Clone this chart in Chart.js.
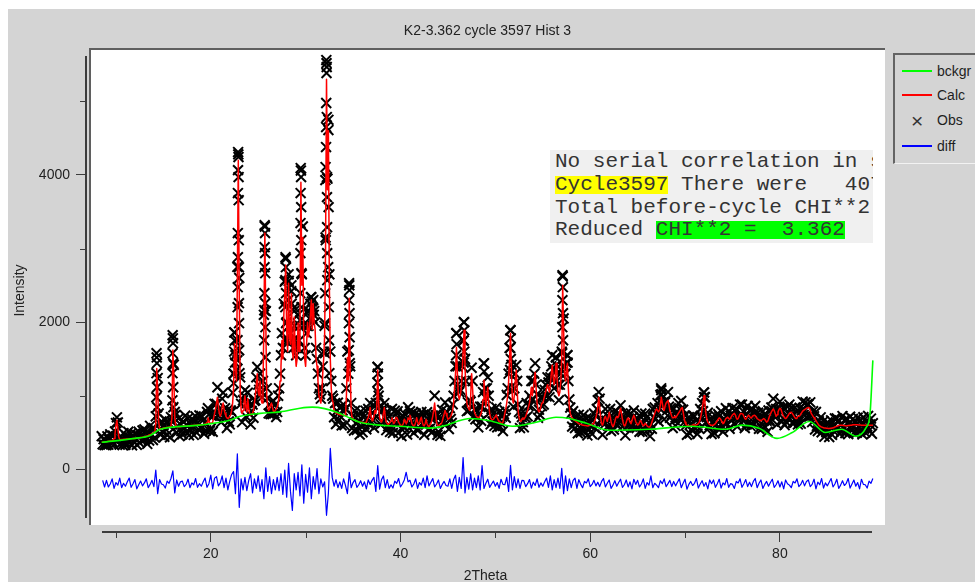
<!DOCTYPE html>
<html lang="en">
<head>
  <meta charset="UTF-8" />
  <title>K2-3.362 cycle 3597 Hist 3</title>
  <style>
    html, body {
      margin: 0;
      padding: 0;
      background: #fff;
      overflow: hidden;
    }

    #wrap {
      position: relative;
      width: 975px;
      height: 582px;
    }

    #legend {
      position: absolute;
      left: 893px;
      top: 53px;
      width: 100px;
      height: 111px;
      box-sizing: border-box;
      background: #d4d4d4;
      border-left: 2px solid #646464;
      border-top: 2px solid #646464;
      border-bottom: 1px solid #f2f2f2;
      font: 14px Arial, "Liberation Sans", sans-serif;
      color: #1e1e1e;
    }

    #legend .item {
      position: absolute;
      left: 7px;
      height: 25px;
      width: 90px;
    }

    #legend .line {
      position: absolute;
      left: 0;
      top: 11px;
      width: 30px;
      height: 2px;
    }

    #legend .mark {
      position: absolute;
      left: 9px;
      top: 0;
      line-height: 25px;
      font-size: 21px;
      color: #333;
    }

    #legend .label {
      position: absolute;
      left: 35px;
      top: 0;
      line-height: 25px;
    }

    #info {
      position: absolute;
      left: 550px;
      top: 150px;
      width: 323px;
      height: 93px;
      box-sizing: border-box;
      padding: 1px 0 0 5px;
      background: #f0f0f0;
      overflow: hidden;
      white-space: pre;
      font: 21px "Courier New", "Liberation Mono", monospace;
      line-height: 22.75px;
      color: #333;
    }

    #info .hl {
      display: inline-block;
      height: 18px;
      line-height: 18px;
    }
  </style>
</head>

<body>
  <div id="wrap">
    <canvas id="myChart" width="975" height="582"></canvas>
    <div id="legend">
      <div class="item" style="top:4px"><span class="line" style="background:#00ff00"></span><span class="label">bckgr</span></div>
      <div class="item" style="top:28px"><span class="line" style="background:#ff0000"></span><span class="label">Calc</span></div>
      <div class="item" style="top:53px"><span class="mark">×</span><span class="label">Obs</span></div>
      <div class="item" style="top:79px"><span class="line" style="background:#0000ff"></span><span class="label">diff</span></div>
    </div>
    <div id="info"><div>No serial correlation in shifts</div><div><span class="hl" style="background:#ffff00">Cycle3597</span> There were   4073 observations</div><div>Total before-cycle CHI**2 (offset/sig)</div><div>Reduced <span class="hl" style="background:#00ff00">CHI**2 =  3.362</span></div></div>
  </div>

  <script src="https://cdn.jsdelivr.net/npm/chart.js@4.4.1/dist/chart.umd.min.js"></script>
  <script>
    // observed and calculated profile, 2Theta 8.5 .. 89.8 in 0.1 deg steps
    const thetaStart = 8.5;
    const thetaStep = 0.1;

    const obs = [
      450, 340, 410, 330, 385,
      330, 448, 335, 403, 475, 344, 381, 458, 336, 515, 628, 707, 637, 419, 335, 451, 418, 330, 491, 373,
      333, 453, 398, 511, 358, 422, 486, 326, 439, 377, 483, 415, 333, 461, 512, 360, 453, 392, 527, 410,
      542, 411, 501, 345, 468, 390, 591, 461, 552, 397, 560, 430, 720, 1520, 1240, 760, 620, 470, 650, 510,
      600, 442, 674, 536, 468, 640, 592, 434, 710, 650, 1780, 1420, 780, 740, 500, 590, 690, 450, 610, 520,
      475, 646, 567, 728, 509, 600, 691, 462, 623, 534, 685, 586, 467, 648, 719, 500, 631, 542, 733, 564,
      725, 567, 669, 482, 626, 530, 780, 830, 740, 520, 555, 728, 510, 730, 890, 760, 890, 1115, 740, 810,
      760, 640, 960, 1040, 720, 830, 740, 560, 810, 650, 610, 800, 780, 1040, 1300, 1860, 1550, 1350, 2750, 4280,
      2600, 1250, 890, 640, 940, 1000, 1075, 720, 900, 1040, 910, 750, 610, 795, 880, 700, 930, 940, 1250, 1390,
      1150, 1080, 1300, 1050, 980, 1200, 2100, 3300, 2150, 1100, 970, 760, 880, 750, 910, 750, 930, 760, 880, 710,
      780, 1000, 1100, 1300, 1550, 1850, 1650, 2250, 2550, 2860, 2000, 1750, 2650, 1950, 1850, 2500, 1750, 1650, 2200, 1750,
      1550, 1650, 2100, 1750, 1950, 4060, 2650, 3300, 1950, 1650, 1550, 1850, 2150, 1950, 2050, 2250, 2340, 2050, 2300, 2150,
      2000, 1650, 1500, 1300, 1100, 1020, 960, 1100, 1400, 1600, 1950, 3150, 5520, 3950, 4750, 2650, 1600, 1200, 1000, 960,
      706, 900, 614, 796, 906, 673, 728, 848, 596, 800, 880, 600, 820, 1100, 1600, 1300, 2500, 1400, 900, 560,
      728, 526, 797, 624, 535, 734, 669, 472, 784, 578, 504, 706, 608, 798, 544, 692, 820, 604, 900, 648,
      768, 668, 564, 860, 904, 720, 1390, 1000, 856, 612, 784, 632, 832, 900, 712, 532, 788, 586, 716, 508,
      576, 820, 494, 656, 796, 628, 760, 788, 496, 680, 648, 451, 732, 584, 560, 744, 644, 472, 844, 620,
      790, 752, 596, 768, 494, 612, 760, 544, 686, 538, 728, 668, 780, 700, 744, 470, 656, 608, 776, 542,
      724, 552, 692, 504, 732, 692, 1000, 736, 736, 468, 511, 720, 454, 656, 806, 628, 738, 908, 616, 780,
      728, 546, 832, 684, 630, 884, 1000, 1200, 1400, 1850, 1400, 1100, 1050, 1080, 1200, 1400, 1750, 2000, 1500, 1200,
      790, 910, 800, 940, 920, 1380, 1200, 720, 810, 680, 810, 700, 570, 760, 850, 660, 850, 1050, 1440, 1100,
      970, 1100, 1250, 1000, 770, 610, 820, 650, 760, 590, 650, 840, 570, 700, 780, 580, 620, 715, 520, 750,
      800, 700, 1010, 1100, 1300, 1650, 1890, 1420, 1070, 850, 1100, 1300, 1415, 1200, 880, 780, 560, 760, 710, 640,
      570, 760, 700, 900, 720, 860, 1000, 870, 1200, 940, 1200, 1300, 1440, 1150, 1020, 700, 810, 740, 980, 860,
      980, 880, 1080, 1150, 990, 1250, 1180, 980, 1250, 1400, 1550, 1350, 1100, 1350, 1520, 1200, 1150, 940, 1150, 1300,
      1600, 2620, 2050, 1400, 1300, 1450, 1550, 1200, 950, 840, 760, 580, 790, 640, 560, 720, 660, 490, 740, 565,
      500, 665, 580, 738, 516, 604, 692, 460, 620, 540, 690, 590, 480, 670, 760, 560, 730, 820, 940, 1050,
      960, 660, 680, 470, 650, 610, 820, 660, 730, 590, 705, 820, 520, 630, 710, 540, 640, 790, 600, 750,
      760, 660, 870, 730, 580, 690, 610, 460, 760, 630, 590, 740, 620, 760, 580, 710, 800, 570, 680, 560,
      690, 600, 510, 716, 760, 510, 620, 540, 755, 570, 710, 540, 635, 450, 610, 550, 820, 700, 840, 690,
      750, 900, 650, 830, 1010, 1075, 890, 910, 680, 910, 940, 800, 1050, 850, 700, 830, 740, 560, 820, 670,
      590, 780, 720, 900, 700, 810, 930, 710, 810, 640, 730, 600, 470, 645, 710, 488, 620, 535, 730, 570,
      720, 560, 665, 480, 630, 550, 820, 720, 900, 790, 1045, 980, 630, 710, 770, 560, 600, 690, 480, 650,
      640, 490, 730, 610, 560, 750, 720, 550, 790, 590, 510, 690, 640, 830, 620, 717, 790, 550, 730, 660,
      830, 740, 630, 790, 820, 580, 720, 660, 880, 720, 880, 710, 780, 560, 690, 610, 860, 715, 800, 590,
      630, 820, 600, 765, 860, 650, 680, 770, 550, 710, 700, 550, 790, 660, 580, 730, 660, 510, 800, 670,
      640, 840, 780, 960, 720, 770, 820, 610, 810, 750, 920, 810, 650, 790, 840, 600, 720, 640, 850, 700,
      880, 730, 835, 630, 750, 630, 840, 670, 780, 610, 650, 830, 620, 800, 920, 740, 800, 910, 710, 885,
      880, 715, 910, 730, 640, 790, 720, 540, 780, 590, 520, 654, 572, 706, 503, 579, 655, 443, 587, 504,
      638, 547, 439, 602, 666, 470, 592, 516, 692, 544, 693, 554, 649, 483, 609, 519, 724, 578, 666, 493,
      527, 682, 477, 623, 715, 546, 593, 685, 497, 651, 642, 497, 703, 576, 512, 664, 618, 474, 708, 555,
      501, 654, 582, 726, 528, 609, 690, 483, 627
    ];

    const calc = [
      367, 369, 371, 372, 374,
      376, 378, 380, 382, 384, 386, 388, 395, 420, 480, 600, 666, 560, 440, 405, 402, 404, 405, 407, 408,
      410, 411, 412, 413, 414, 415, 416, 417, 418, 419, 420, 422, 424, 426, 428, 430, 432, 434, 436, 438,
      440, 445, 450, 455, 460, 466, 472, 478, 484, 490, 500, 510, 620, 1370, 1100, 650, 560, 550, 552, 555,
      560, 562, 564, 566, 568, 570, 572, 574, 590, 700, 1620, 1300, 700, 600, 580, 578, 578, 580, 580, 582,
      585, 586, 587, 588, 589, 590, 591, 592, 593, 594, 595, 596, 597, 598, 599, 600, 601, 602, 603, 604,
      605, 607, 609, 612, 616, 620, 640, 700, 660, 630, 625, 628, 640, 700, 760, 820, 900, 980, 860, 760,
      720, 760, 850, 900, 820, 760, 720, 700, 690, 700, 720, 740, 800, 900, 1100, 1710, 1400, 1200, 2600, 4200,
      2400, 1100, 800, 760, 800, 900, 1000, 850, 780, 960, 820, 760, 740, 745, 760, 800, 900, 1000, 1150, 1300,
      1050, 1000, 1200, 950, 900, 1100, 1990, 3210, 2000, 1000, 850, 800, 820, 880, 900, 840, 790, 780, 800, 820,
      850, 900, 1000, 1200, 1400, 1750, 1500, 2100, 2400, 2775, 1900, 1600, 2530, 1800, 1700, 2390, 1600, 1500, 2070, 1600,
      1400, 1500, 1990, 1600, 1800, 3900, 2500, 3150, 1800, 1500, 1400, 1700, 2000, 1800, 1900, 2100, 2300, 1900, 2250, 2000,
      1900, 1500, 1400, 1200, 1000, 950, 900, 1000, 1300, 1500, 1800, 3000, 5300, 3800, 4600, 2500, 1500, 1100, 950, 900,
      790, 780, 770, 760, 750, 745, 740, 740, 740, 740, 735, 730, 728, 1000, 1520, 1200, 2325, 1300, 800, 700,
      680, 670, 665, 660, 655, 650, 645, 640, 640, 638, 636, 634, 632, 630, 640, 680, 700, 760, 840, 720,
      660, 680, 720, 800, 760, 840, 1350, 900, 700, 660, 640, 680, 760, 840, 700, 640, 620, 610, 620, 640,
      660, 700, 650, 620, 640, 700, 707, 680, 640, 620, 600, 595, 600, 620, 680, 660, 620, 640, 700, 680,
      735, 680, 620, 600, 590, 600, 640, 700, 650, 610, 620, 680, 707, 640, 600, 590, 620, 680, 620, 590,
      580, 600, 620, 660, 720, 800, 900, 760, 640, 600, 595, 600, 610, 620, 650, 700, 750, 800, 760, 720,
      680, 690, 700, 720, 750, 800, 900, 1100, 1300, 1660, 1300, 1000, 950, 1000, 1100, 1300, 1600, 1890, 1400, 1100,
      900, 850, 820, 800, 1000, 1300, 1100, 850, 780, 740, 720, 710, 700, 710, 730, 760, 820, 950, 1210, 1000,
      850, 1000, 1115, 900, 760, 700, 680, 670, 680, 700, 720, 740, 700, 670, 650, 640, 630, 625, 640, 700,
      760, 820, 900, 1000, 1200, 1500, 1850, 1300, 950, 900, 1000, 1200, 1350, 1100, 800, 700, 660, 650, 680, 700,
      680, 700, 720, 760, 800, 850, 900, 1000, 1115, 1000, 1100, 1200, 1320, 1100, 900, 800, 780, 800, 850, 900,
      900, 950, 1000, 1050, 1100, 1150, 1100, 1050, 1150, 1300, 1415, 1250, 1150, 1250, 1440, 1250, 1050, 1000, 1050, 1200,
      1500, 2500, 1900, 1300, 1200, 1350, 1440, 1100, 850, 760, 720, 700, 680, 670, 660, 650, 640, 630, 620, 615,
      610, 605, 600, 598, 596, 594, 592, 590, 590, 600, 600, 600, 610, 620, 640, 660, 700, 760, 850, 980,
      850, 700, 620, 600, 640, 700, 720, 680, 650, 700, 775, 720, 650, 600, 580, 600, 650, 700, 720, 700,
      720, 780, 830, 760, 680, 620, 590, 600, 640, 680, 700, 680, 640, 620, 660, 700, 735, 700, 650, 620,
      600, 610, 640, 666, 640, 610, 590, 600, 625, 610, 590, 580, 575, 580, 600, 640, 680, 720, 760, 800,
      820, 800, 780, 800, 880, 980, 900, 820, 800, 860, 900, 920, 940, 880, 800, 760, 720, 700, 700, 720,
      700, 720, 740, 760, 780, 800, 830, 840, 780, 700, 640, 610, 600, 595, 590, 588, 590, 595, 600, 610,
      600, 600, 605, 610, 620, 640, 680, 740, 820, 900, 1000, 900, 760, 680, 640, 620, 610, 600, 600, 600,
      600, 610, 620, 640, 660, 680, 700, 690, 670, 640, 620, 630, 660, 690, 700, 707, 690, 680, 700, 720,
      740, 750, 760, 740, 700, 680, 690, 720, 750, 760, 760, 750, 720, 690, 680, 700, 720, 735, 720, 700,
      700, 720, 730, 735, 730, 710, 690, 680, 670, 660, 660, 670, 680, 690, 680, 660, 640, 650, 680, 720,
      750, 780, 800, 820, 800, 760, 720, 740, 780, 810, 830, 820, 780, 740, 720, 700, 690, 700, 720, 740,
      760, 770, 775, 760, 740, 720, 700, 690, 700, 720, 720, 730, 750, 770, 790, 800, 810, 820, 830, 835,
      840, 835, 800, 760, 740, 720, 700, 680, 660, 640, 620, 600, 590, 580, 575, 570, 565, 560, 560, 558,
      557, 556, 556, 557, 558, 560, 565, 570, 575, 580, 585, 590, 595, 600, 600, 600, 598, 596, 594, 592,
      590, 592, 594, 596, 598, 600, 602, 604, 605, 606, 606, 605, 604, 603, 602, 601, 600, 600, 600, 600,
      600, 600, 600, 600, 600, 600, 600, 600, 600
    ];

    // extra observed points stacked on the flanks of the strong reflections
    const peakTheta = [
      14.28, 14.32, 14.27, 14.33, 14.26, 14.34,
      15.98, 16.02, 15.97, 16.03, 15.96, 16.04, 15.95, 16.05,
      22.48, 22.52, 22.46, 22.55, 22.44, 22.42,
      22.88, 22.92, 22.87, 22.93, 22.86, 22.94, 22.85, 22.95, 22.86, 22.96, 22.84, 22.97, 22.83, 22.98, 22.82, 22.99, 22.81, 23.02,
      25.68, 25.72, 25.67, 25.73, 25.66, 25.74, 25.65, 25.75, 25.64, 25.76, 25.63, 25.77,
      27.88, 27.92, 27.87, 27.93, 27.86, 27.94, 27.85,
      28.22, 28.48, 28.52, 28.18, 28.78, 28.82,
      29.48, 29.52, 29.47, 29.53, 29.46, 29.54, 29.45, 29.55, 29.44, 29.56, 29.43,
      30.55, 30.65, 30.75, 30.35, 30.85, 30.15,
      32.18, 32.22, 32.2, 32.17, 32.23, 32.16, 32.4, 32.15, 32.1, 32.24, 32.08, 32.25,
      32.42, 32.26, 32.12, 32.27, 32.38, 32.28, 32.06, 32.44, 32.05, 32.46, 32.04, 32.5,
      34.58, 34.62, 34.57, 34.63, 34.56, 34.64, 34.55, 34.65,
      37.58, 37.62, 37.57, 37.63,
      45.88, 45.92, 45.87, 46.68, 46.72, 46.67, 46.73, 46.66,
      48.78, 48.82,
      51.58, 51.62, 51.57, 51.63, 51.56,
      56.38, 56.42,
      57.08, 57.12, 57.07, 57.13, 57.06, 57.14, 57.05, 57.15,
      57.58, 57.62,
      67.48, 67.52,
      71.98, 72.02
    ];
    const peakCounts = [
      1578, 1442, 1306, 1115, 979, 843,
      1822, 1714, 1578, 1442, 1306, 1115, 938, 843,
      1860, 1750, 1600, 1450, 1300, 1170,
      4311, 4243, 4066, 3971, 3754, 3658, 3210, 3114, 2883, 2747, 2475, 2258, 2203, 1986, 1754, 1618, 1482, 1306,
      3318, 3210, 3019, 2938, 2747, 2666, 2394, 2258, 2162, 1931, 1754, 1523,
      2883, 2747, 2570, 2394, 2203, 1986, 1754,
      2560, 2420, 2250, 2300, 2150, 1950,
      4094, 3971, 3754, 3563, 3346, 3114, 2938, 2666, 2394, 2203, 2026,
      2340, 2280, 2200, 2150, 2100, 1950,
      5562, 5467, 5386, 4978, 4787, 4651, 4610, 4379, 4107, 3971, 3930, 3699,
      3563, 3291, 3114, 2938, 2747, 2570, 2394, 2203, 1986, 1754, 1578, 1306,
      2530, 2434, 2298, 2122, 1986, 1795, 1618, 1442,
      1390, 1300, 1180, 1050,
      1850, 1700, 1550, 2000, 1890, 1750, 1600, 1450,
      1440, 1330,
      1890, 1780, 1650, 1500, 1350,
      1520, 1420,
      2638, 2475, 2298, 2122, 1931, 1754, 1578, 1387,
      1550, 1450,
      1100, 1020,
      1045, 980
    ];

    // difference curve (Obs - Calc, shifted down), every 0.2 deg from 8.6
    const diffStart = 8.6;
    const diffStep = 0.2;
    const diff = [
      -150, -240,
      -150, -240, -200, -130, -260, -180, -215, -120, -250, -190,
      -230, -170, -120, -245, -195, -140, -265, -210, -160, -225,
      -185, -130, -250, -205, -150, -235, -10, -330, -140, -200,
      -210, -255, -160, -190, -125, -20, -320, -145, -230, -170,
      -160, -235, -205, -135, -250, -185, -210, -125, -245, -195,
      -230, -170, -120, -245, -195, -80, -265, -120, -100, -225,
      -185, -90, -250, -120, -280, -160, -70, -30, -330, 210,
      -517, -130, -280, -110, -290, -150, -60, -320, -130, -260,
      -90, -300, -140, -400, 20, -300, -100, -330, -140, -280,
      -110, -290, -60, -340, -10, -380, 80, -300, -560, -60,
      -280, -40, -360, 60, -460, -70, -310, 20, -400, -100,
      -270, 10, -330, -130, -240, -170, -625, -320, 285, -110,
      -230, -140, -250, -170, -260, -130, -220, -330, -40, -250,
      -180, -140, -245, -210, -155, -230, -170, -265, -145, -205,
      -150, -110, -300, 50, -270, -140, -90, -250, -140, -260,
      -210, -255, -160, -190, -125, -240, -200, -145, -40, -170,
      -150, -240, -200, -130, -260, -180, -215, -120, -250, -90,
      -225, -175, -125, -240, -200, -145, -260, -205, -165, -220,
      -230, -130, -260, -140, -80, -300, -110, -260, 160, -320,
      -110, -270, -60, -280, -120, -250, -90, -280, 50, -260,
      -190, -135, -245, -200, -160, -230, -180, -260, -135, -205,
      -210, -110, -300, 55, -280, -100, -250, -130, -260, -150,
      -155, -235, -195, -140, -255, -175, -220, -130, -245, -185,
      -230, -170, -120, -245, -90, -280, -140, -250, -120, -260,
      14, -330, -90, -290, -130, -250, -150, -120, -260, -140,
      -205, -250, -165, -185, -130, -235, -205, -150, -225, -175,
      -235, -165, -125, -240, -190, -145, -260, -215, -155, -230,
      -180, -135, -245, -210, -145, -240, -170, -265, -135, -205,
      -150, -240, -200, -130, -260, -180, -215, -90, -250, -190,
      -215, -250, -155, -195, -130, -235, -195, -150, -235, -165,
      -225, -175, -130, -250, -190, -135, -270, -205, -165, -220,
      -190, -125, -255, -200, -155, -230, -180, -265, -145, -195,
      -145, -245, -195, -135, -255, -185, -210, -125, -245, -195,
      -205, -260, -165, -185, -130, -245, -195, -140, -235, -175,
      -235, -165, -125, -250, -190, -145, -260, -205, -165, -230,
      -180, -135, -245, -210, -155, -240, -170, -265, -145, -195,
      -215, -250, -165, -185, -130, -235, -205, -150, -225, -165,
      -145, -235, -205, -135, -265, -175, -210, -125, -255, -185,
      -225, -175, -125, -240, -200, -135, -260, -215, -155, -220,
      -190, -125, -255, -200, -145, -230, -180, -265, -135, -205,
      -210, -255, -160, -190, -125
    ];

    // refined background
    const bckgTheta = [8.5, 12.0, 13.6, 14.6, 15.7, 18.8, 22.0, 23.1, 25.2, 27.3, 29.4, 30.7, 32.0, 33.3, 34.6,
      35.7, 37.8, 39.9, 43.1, 44.6, 45.7, 47.3, 49.4, 51.8, 54.3, 56.4, 57.8, 59.6, 62.0, 66.2, 70.7, 74.3,
      76.0, 77.8, 79.7, 81.3, 83.1, 84.8, 86.5, 88.0, 89.1, 89.5, 89.8];
    const bckgCounts = [367, 420, 460, 540, 570, 600, 666, 720, 760, 780, 830, 845, 825, 775, 700,
      640, 600, 585, 560, 590, 640, 690, 660, 585, 640, 707, 690, 625, 530, 545, 585, 544,
      600, 557, 420, 500, 650, 500, 545, 450, 570, 750, 1480];

    const xTicks = [20, 40, 60, 80];
    const xMinorTicks = [10, 30, 50, 70];
    const yTicks = [0, 2000, 4000];
    const yMinorTicks = [1000, 3000, 5000];

    // extent of the drawn axis lines
    const xAxisSpan = [8.5, 89.7];
    const yAxisSpan = [-662, 5617];

    function onGrid(values, start, step) {
      return values.map((v, i) => ({ x: +(start + i * step).toFixed(2), y: v }));
    }

    const obsPoints = onGrid(obs, thetaStart, thetaStep)
      .concat(peakTheta.map((t, i) => ({ x: t, y: peakCounts[i] })));
    const calcPoints = onGrid(calc, thetaStart, thetaStep);
    const diffPoints = onGrid(diff, diffStart, diffStep);
    const bckgPoints = bckgTheta.map((t, i) => ({ x: t, y: bckgCounts[i] }));

    const font = { family: 'Arial, "Liberation Sans", sans-serif', size: 14 };
    const ink = '#222';

    const frame = {
      id: 'frame',
      beforeDraw(chart) {
        const ctx = chart.ctx;
        const area = chart.chartArea;
        const x = chart.scales.x;
        const y = chart.scales.y;
        ctx.save();
        ctx.fillStyle = '#ffffff';
        ctx.fillRect(0, 0, chart.width, chart.height);
        ctx.fillStyle = '#d4d4d4';
        ctx.fillRect(8, 9, chart.width - 8, chart.height - 9);

        // white plotting field, sunken edge on top and left
        ctx.fillStyle = '#ffffff';
        ctx.fillRect(90, 49, 795, 476);
        ctx.fillStyle = '#5f5f5f';
        ctx.fillRect(89, 48, 796, 2);
        ctx.fillRect(89, 48, 2, 477);

        // axis lines
        ctx.fillStyle = '#3c3c3c';
        const yTop = Math.round(y.getPixelForValue(yAxisSpan[1]));
        const yBot = Math.round(y.getPixelForValue(yAxisSpan[0]));
        ctx.fillRect(area.left - 1, yTop, 2, yBot - yTop);
        const xL = Math.round(x.getPixelForValue(xAxisSpan[0]));
        const xR = Math.round(x.getPixelForValue(xAxisSpan[1]));
        ctx.fillRect(xL, area.bottom - 1, xR - xL, 2);

        // minor ticks
        yMinorTicks.forEach(v => {
          const py = Math.round(y.getPixelForValue(v));
          ctx.fillRect(area.left - 6, py, 5, 1);
        });
        xMinorTicks.forEach(v => {
          const px = Math.round(x.getPixelForValue(v));
          ctx.fillRect(px, area.bottom + 1, 1, 5);
        });
        ctx.restore();
      }
    };

    const ctx = document.getElementById('myChart').getContext('2d');
    const myChart = new Chart(ctx, {
      type: 'scatter',
      data: {
        datasets: [
          {
            label: 'diff',
            data: diffPoints,
            showLine: true,
            borderColor: '#0000ff',
            borderWidth: 1.2,
            pointRadius: 0,
            borderJoinStyle: 'round'
          },
          {
            label: 'bckgr',
            data: bckgPoints,
            showLine: true,
            borderColor: '#00ff00',
            borderWidth: 1.6,
            pointRadius: 0,
            cubicInterpolationMode: 'monotone'
          },
          {
            label: 'Calc',
            data: calcPoints,
            showLine: true,
            borderColor: '#ff0000',
            borderWidth: 1.5,
            pointRadius: 0,
            borderJoinStyle: 'round'
          },
          {
            label: 'Obs',
            data: obsPoints,
            showLine: false,
            pointStyle: 'crossRot',
            pointRadius: 7,
            pointBorderWidth: 2,
            pointBorderColor: '#000',
            pointBackgroundColor: 'transparent'
          }
        ]
      },
      options: {
        responsive: false,
        animation: false,
        devicePixelRatio: 1,
        events: [],
        layout: { padding: 0 },
        plugins: {
          legend: { display: false },
          tooltip: { enabled: false },
          title: {
            display: true,
            text: 'K2-3.362 cycle 3597 Hist 3',
            color: ink,
            font: { family: font.family, size: 14, weight: 'normal' },
            padding: { top: 23, bottom: 9.2 }
          }
        },
        scales: {
          x: {
            type: 'linear',
            position: 'bottom',
            min: 6.843,
            max: 91.081,
            afterFit: s => { s.height = 50; },
            afterBuildTicks: s => { s.ticks = xTicks.map(v => ({ value: v })); },
            grid: { display: true, drawOnChartArea: false, drawTicks: true, tickLength: 10, color: '#3c3c3c' },
            border: { display: false },
            ticks: { color: ink, font: font, padding: 4, maxRotation: 0, callback: v => String(v) },
            title: { display: true, text: '2Theta', color: ink, font: font, padding: { top: 0, bottom: -3 } }
          },
          y: {
            type: 'linear',
            position: 'left',
            min: -852,
            max: 5712,
            afterFit: s => { s.width = 86; },
            afterBuildTicks: s => { s.ticks = yTicks.map(v => ({ value: v })); },
            grid: { display: true, drawOnChartArea: false, drawTicks: true, tickLength: 10, color: '#3c3c3c' },
            border: { display: false },
            ticks: { color: ink, font: font, padding: 6, callback: v => String(v) },
            title: { display: true, text: 'Intensity', color: ink, font: font, padding: { top: 11.6, bottom: 0 } }
          },
          side: {
            type: 'linear',
            position: 'right',
            afterFit: s => { s.width = 90; },
            grid: { display: false },
            border: { display: false },
            ticks: { display: false }
          }
        }
      },
      plugins: [frame]
    });
  </script>
</body>

</html>
